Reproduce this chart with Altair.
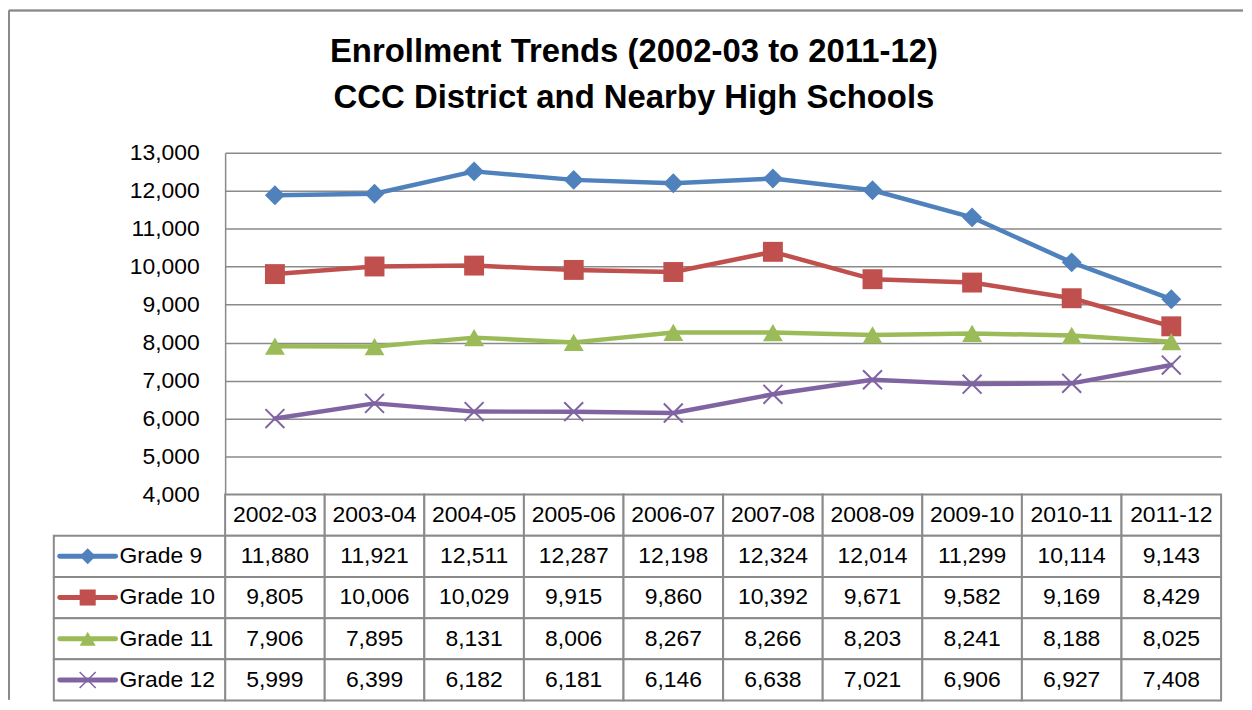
import altair as alt
import pandas as pd

years = ["2002-03", "2003-04", "2004-05", "2005-06", "2006-07",
         "2007-08", "2008-09", "2009-10", "2010-11", "2011-12"]
grades = ["Grade 9", "Grade 10", "Grade 11", "Grade 12"]
grade9 = [11880, 11921, 12511, 12287, 12198, 12324, 12014, 11299, 10114, 9143]
grade10 = [9805, 10006, 10029, 9915, 9860, 10392, 9671, 9582, 9169, 8429]
grade11 = [7906, 7895, 8131, 8006, 8267, 8266, 8203, 8241, 8188, 8025]
grade12 = [5999, 6399, 6182, 6181, 6146, 6638, 7021, 6906, 6927, 7408]
y_ticks = [4000, 5000, 6000, 7000, 8000, 9000, 10000, 11000, 12000, 13000]

colors = ["#4F81BD", "#C0504D", "#9BBB59", "#8064A2"]
xpath = "M-1,-1L1,1M-1,1L1,-1"
shapes = ["diamond", "square", "triangle-up", xpath]
GRID = "#8a8a8a"
FONT = "Liberation Sans"

series = [grade9, grade10, grade11, grade12]
rows = []
for gi, (g, vals) in enumerate(zip(grades, series)):
    for yi, (yr, v) in enumerate(zip(years, vals)):
        rows.append({"grade": g, "year": yr, "value": v, "col": yi,
                     "row": gi + 1, "label": f"{v:,}"})
df = pd.DataFrame(rows)
hdr = pd.DataFrame({"year": years, "col": list(range(len(years))), "row": 0})
leg = pd.DataFrame({"grade": grades, "row": list(range(1, len(grades) + 1))})

# ---------- line chart ----------
X_line = alt.X("year:O", sort=years, scale=alt.Scale(type="point", padding=0.5), axis=None)
Y_line = alt.Y("value:Q",
               scale=alt.Scale(domain=[4000, 13000], range=[343, 0], nice=False, zero=False),
               axis=alt.Axis(values=y_ticks, format=",.0f", title=None, grid=True,
                             gridColor=GRID, gridWidth=1.5, domainColor=GRID, domainWidth=1.5,
                             ticks=False, tickSize=0, labelPadding=26, labelFontSize=23,
                             labelFont=FONT, labelColor="black"))
C = alt.Color("grade:N", scale=alt.Scale(domain=grades, range=colors), legend=None)
S = alt.Shape("grade:N", scale=alt.Scale(domain=grades, range=shapes), legend=None)

base = alt.Chart(df)
lines = base.mark_line(strokeJoin="round", strokeCap="round").encode(
    x=X_line, y=Y_line, color=C,
    strokeWidth=alt.StrokeWidth("grade:N", scale=alt.Scale(domain=grades, range=[4.5, 4.5, 4.5, 5.5]), legend=None),
)
pts = base.transform_filter(alt.datum.grade != "Grade 12").mark_point(
    filled=True, size=400, opacity=1).encode(x=X_line, y=Y_line, color=C, shape=S)
pts12 = base.transform_filter(alt.datum.grade == "Grade 12").mark_point(
    filled=False, size=361, strokeWidth=2, opacity=1).encode(x=X_line, y=Y_line, color=C, shape=S)
line_group = alt.layer(lines, pts, pts12)

# ---------- data table ----------
TX = alt.Scale(domain=[-1.72, 10], range=[-172, 1000], nice=False, zero=False)
TY = alt.Scale(domain=[0, 5], range=[343, 550], nice=False, zero=False)

def cells_from(data, x0, x1):
    return alt.Chart(data).transform_calculate(
        cx0=x0, cx1=x1, r1="datum.row + 1"
    ).mark_rect(fill="white", stroke=GRID, strokeWidth=2).encode(
        x=alt.X("cx0:Q", scale=TX, axis=None), x2="cx1:Q",
        y=alt.Y("row:Q", scale=TY, axis=None), y2="r1:Q")

val_cells = cells_from(df, "datum.col", "datum.col + 1")
hdr_cells = cells_from(hdr, "datum.col", "datum.col + 1")
leg_cells = cells_from(leg, "-1.72", "0")

def text_layer(data, field):
    return alt.Chart(data).transform_calculate(
        tx="datum.col + 0.5", ty="datum.row + 0.5"
    ).mark_text(font=FONT, fontSize=23, color="black", baseline="middle", align="center").encode(
        x=alt.X("tx:Q", scale=TX, axis=None),
        y=alt.Y("ty:Q", scale=TY, axis=None),
        text=f"{field}:N")

val_text = text_layer(df, "label")
hdr_text = text_layer(hdr, "year")

leg_text = alt.Chart(leg).transform_calculate(
    tx="-1.06", ty="datum.row + 0.5"
).mark_text(font=FONT, fontSize=23, color="black", baseline="middle", align="left").encode(
    x=alt.X("tx:Q", scale=TX, axis=None), y=alt.Y("ty:Q", scale=TY, axis=None), text="grade:N")

leg_line = alt.Chart(leg).transform_calculate(
    lx0="-1.66", lx1="-1.10", ty="datum.row + 0.5"
).mark_rule(strokeWidth=5, strokeCap="round").encode(
    x=alt.X("lx0:Q", scale=TX, axis=None), x2="lx1:Q",
    y=alt.Y("ty:Q", scale=TY, axis=None), color=C)

leg_pts = alt.Chart(leg).transform_calculate(
    mx="-1.38", ty="datum.row + 0.5"
).transform_filter(alt.datum.grade != "Grade 12").mark_point(filled=True, size=260, opacity=1).encode(
    x=alt.X("mx:Q", scale=TX, axis=None), y=alt.Y("ty:Q", scale=TY, axis=None), color=C, shape=S)
leg_pts12 = alt.Chart(leg).transform_calculate(
    mx="-1.38", ty="datum.row + 0.5"
).transform_filter(alt.datum.grade == "Grade 12").mark_point(filled=False, size=260, strokeWidth=1.5, opacity=1).encode(
    x=alt.X("mx:Q", scale=TX, axis=None), y=alt.Y("ty:Q", scale=TY, axis=None), color=C, shape=S)

# outer chart frame (left and top edges)
frame_top = alt.Chart(leg).mark_rule(color=GRID, strokeWidth=1.5).encode(
    x=alt.value(-217), x2=alt.value(1022), y=alt.value(-143))
frame_left = alt.Chart(leg).mark_rule(color=GRID, strokeWidth=1.5).encode(
    x=alt.value(-217), y=alt.value(-143), y2=alt.value(549))

table_group = alt.layer(hdr_cells, val_cells, leg_cells, hdr_text, val_text,
                        leg_line, leg_pts, leg_pts12, leg_text, frame_top, frame_left)

chart = alt.layer(line_group, table_group).resolve_scale(
    x="independent", y="independent"
).properties(
    width=1000, height=550,
    padding={"left": 0, "top": 0, "right": 0, "bottom": 0},
    title=alt.Title(
        text=["Enrollment Trends (2002-03 to 2011-12)", "CCC District and Nearby High Schools"],
        font=FONT, fontSize=33, fontWeight="bold", color="black",
        anchor="middle", frame="bounds", baseline="bottom",
        lineHeight=46, offset=-139, dx=8),
).configure_view(stroke=None)

chart.save("out.html", embed_options={"renderer": "svg", "actions": False})
